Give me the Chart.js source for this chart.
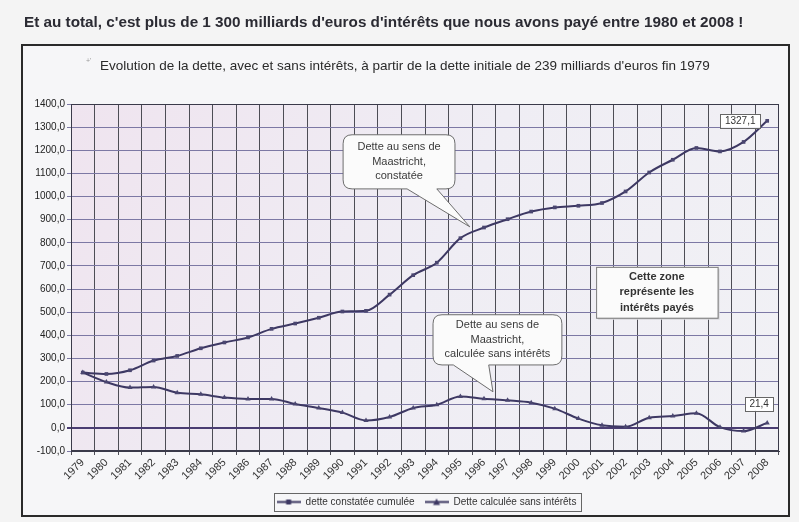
<!DOCTYPE html>
<html><head><meta charset="utf-8">
<script src="https://cdn.jsdelivr.net/npm/chart.js@4.4.1/dist/chart.umd.min.js"></script>
<style>html,body{margin:0;padding:0;background:#f4f4f4;}#wrap{width:799px;height:522px;}</style>
</head><body><div id="wrap"><canvas id="c" width="799" height="522"></canvas></div>
<script>
const years = ['1979','1980','1981','1982','1983','1984','1985','1986','1987','1988','1989','1990','1991','1992','1993','1994','1995','1996','1997','1998','1999','2000','2001','2002','2003','2004','2005','2006','2007','2008'];
const detteConstatee = [239, 233, 249, 291, 311, 344, 369, 391, 428, 451, 476, 503, 506, 576, 660, 714, 820, 866, 902, 935, 953, 960, 972, 1022, 1104, 1159, 1210, 1195, 1236, 1327.1];
const detteSansInterets = [239, 198, 174, 177, 152, 145, 131, 125, 125, 103, 86, 66, 32, 47, 86, 100, 136, 126, 119, 109, 83, 40, 11, 5, 44, 51, 63, 3, -14, 21.4];
const seriesNames = ['dette constatée cumulée', 'Dette calculée sans intérêts'];
const yMin = -100, yMax = 1400, yStep = 100;
const mainTitle = "Et au total, c'est plus de 1 300 milliards d'euros d'intérêts que nous avons payé entre 1980 et 2008 !";
const subTitle = "Evolution de la dette, avec et sans intérêts, à partir de la dette initiale de 239 milliards d'euros fin 1979";
const callout1 = ['Dette au sens de', 'Maastricht,', 'constatée'];
const callout2 = ['Dette au sens de', 'Maastricht,', 'calculée sans intérêts'];
const zoneText = ['Cette zone', 'représente les', 'intérêts payés'];

const LINE = '#3d3863';
const FONT = 'Arial, "Liberation Sans", sans-serif';
const fmt = v => v.toFixed(1).replace('.', ',');

function legendIcon(style) {
  const c = document.createElement('canvas');
  c.width = 24; c.height = 9;
  const g = c.getContext('2d');
  g.strokeStyle = LINE; g.lineWidth = 2;
  g.beginPath(); g.moveTo(0, 4.5); g.lineTo(24, 4.5); g.stroke();
  g.fillStyle = LINE;
  if (style === 'rect') { g.fillRect(9.5, 2, 5, 5); }
  else { g.beginPath(); g.moveTo(12, 1); g.lineTo(15.5, 7.5); g.lineTo(8.5, 7.5); g.closePath(); g.fill(); }
  return c;
}

function roundCallout(ctx, x1, y1, x2, y2, r, b1, b2, tx, ty) {
  ctx.beginPath();
  ctx.moveTo(x1 + r, y1);
  ctx.lineTo(x2 - r, y1);
  ctx.quadraticCurveTo(x2, y1, x2, y1 + r);
  ctx.lineTo(x2, y2 - r);
  ctx.quadraticCurveTo(x2, y2, x2 - r, y2);
  ctx.lineTo(b2, y2);
  ctx.lineTo(tx, ty);
  ctx.lineTo(b1, y2);
  ctx.lineTo(x1 + r, y2);
  ctx.quadraticCurveTo(x1, y2, x1, y2 - r);
  ctx.lineTo(x1, y1 + r);
  ctx.quadraticCurveTo(x1, y1, x1 + r, y1);
  ctx.closePath();
}

function fitText(ctx, txt, weight, targetW) {
  ctx.font = weight + '10px ' + FONT;
  const w10 = ctx.measureText(txt).width;
  const size = 10 * targetW / w10;
  ctx.font = weight + size.toFixed(2) + 'px ' + FONT;
}

const deco = {
  id: 'deco',
  afterLayout(chart) {
    const lg = chart.legend;
    if (lg) { lg.left += 26; lg.right += 26; }
  },
  beforeDraw(chart) {
    const ctx = chart.ctx, a = chart.chartArea;
    ctx.save();
    ctx.fillStyle = '#f4f4f4'; ctx.fillRect(0, 0, 799, 522);
    ctx.fillStyle = '#f6f6f8'; ctx.fillRect(22, 45, 767, 471);
    const gr = ctx.createLinearGradient(a.left, a.top, a.right, a.bottom);
    gr.addColorStop(0, '#efe4ef'); gr.addColorStop(0.5, '#efedf4'); gr.addColorStop(1, '#f1f1f5');
    ctx.fillStyle = gr; ctx.fillRect(a.left, a.top, a.right - a.left, a.bottom - a.top);
    ctx.restore();
  },
  afterDatasetsDraw(chart) {
    const ctx = chart.ctx, x = chart.scales.x, y = chart.scales.y, a = chart.chartArea;
    const X = i => x.getPixelForValue(i), Y = v => y.getPixelForValue(v);
    ctx.save();
    ctx.strokeStyle = '#3a3a4a'; ctx.lineWidth = 1;
    ctx.strokeRect(a.left + 0.5, a.top + 0.5, a.right - a.left - 1, a.bottom - a.top - 1);
    ctx.font = '11px ' + FONT; ctx.textAlign = 'center'; ctx.textBaseline = 'middle';
    const drawCallout = (bx1, by1, bx2, by2, b1, b2, tx, ty, lines) => {
      const x1 = X(bx1), x2 = X(bx2), y1 = Y(by1), y2 = Y(by2);
      ctx.fillStyle = '#fbfbfb'; ctx.strokeStyle = '#6d6d6d'; ctx.lineWidth = 1;
      roundCallout(ctx, x1, y1, x2, y2, 9, X(b1), X(b2), X(tx), Y(ty));
      ctx.fill(); ctx.stroke();
      ctx.fillStyle = '#3a3a3a';
      const cx = (x1 + x2) / 2, h = 14.5, cy = (y1 + y2) / 2;
      lines.forEach((t, k) => ctx.fillText(t, cx, cy + (k - (lines.length - 1) / 2) * h));
    };
    drawCallout(11.03, 1267, 15.77, 1033, 13.74, 15.0, 16.4, 869, callout1);
    drawCallout(14.84, 489, 20.3, 272, 15.7, 17.2, 17.38, 156, callout2);
    const zx1 = X(21.75), zx2 = X(26.9), zy1 = Y(696), zy2 = Y(476);
    ctx.fillStyle = '#d8d8dc'; ctx.fillRect(zx1 + 2, zy1 + 2, zx2 - zx1, zy2 - zy1);
    ctx.fillStyle = '#fbfbfb'; ctx.fillRect(zx1, zy1, zx2 - zx1, zy2 - zy1);
    ctx.strokeStyle = '#7a7a7a'; ctx.strokeRect(zx1 + 0.5, zy1 + 0.5, zx2 - zx1, zy2 - zy1);
    ctx.font = 'bold 11px ' + FONT; ctx.fillStyle = '#333';
    const zc = (zx1 + zx2) / 2, zm = (zy1 + zy2) / 2;
    zoneText.forEach((t, k) => ctx.fillText(t, zc, zm + (k - 1) * 15.5));
    ctx.font = '10px ' + FONT;
    const lastI = years.length - 1;
    const lab = (txt, cx, cy) => {
      const w = ctx.measureText(txt).width + 9, h = 14;
      ctx.fillStyle = '#ffffff'; ctx.fillRect(cx - w / 2, cy - h / 2, w, h);
      ctx.strokeStyle = '#666'; ctx.strokeRect(Math.round(cx - w / 2) + 0.5, Math.round(cy - h / 2) + 0.5, Math.round(w), h);
      ctx.fillStyle = '#333'; ctx.fillText(txt, cx, cy + 0.5);
    };
    const p1 = chart.getDatasetMeta(0).data[lastI], p2 = chart.getDatasetMeta(1).data[lastI];
    lab(fmt(detteConstatee[lastI]), p1.x - 27, p1.y);
    lab(fmt(detteSansInterets[lastI]), p2.x - 8, p2.y - 19);
    ctx.restore();
  },
  afterDraw(chart) {
    const ctx = chart.ctx;
    ctx.save();
    ctx.fillStyle = '#2b2b33'; ctx.textBaseline = 'middle'; ctx.textAlign = 'left';
    fitText(ctx, mainTitle, 'bold ', 720);
    ctx.fillText(mainTitle, 24, 23);
    ctx.fillStyle = '#2a2a2a';
    fitText(ctx, subTitle, '', 610);
    ctx.fillText(subTitle, 100, 66);
    ctx.fillStyle = '#999'; ctx.font = '7px ' + FONT; ctx.fillText("+'", 86, 61);
    ctx.strokeStyle = '#2a2a2a'; ctx.lineWidth = 2;
    ctx.strokeRect(22, 45, 767, 471);
    const lg = chart.legend, hb = lg.legendHitBoxes;
    if (hb && hb.length) {
      const l = hb[0].left - 3, r = hb[hb.length - 1].left + hb[hb.length - 1].width + 4;
      const t = hb[0].top - 4, h = hb[0].height + 8;
      ctx.lineWidth = 1; ctx.strokeStyle = '#666';
      ctx.strokeRect(Math.round(l) + 0.5, Math.round(t) + 0.5, Math.round(r - l), Math.round(h));
    }
    ctx.restore();
  }
};

new Chart(document.getElementById('c'), {
  type: 'line',
  data: {
    labels: years,
    datasets: [
      { label: seriesNames[0], data: detteConstatee, borderColor: LINE, backgroundColor: LINE, borderWidth: 2,
        pointStyle: 'rect', pointRadius: 2.6, pointBackgroundColor: '#4a4670', pointBorderColor: '#4a4670', pointBorderWidth: 0,
        tension: 0.35, cubicInterpolationMode: 'monotone' },
      { label: seriesNames[1], data: detteSansInterets, borderColor: LINE, backgroundColor: LINE, borderWidth: 2,
        pointStyle: 'triangle', pointRadius: 3, pointBackgroundColor: '#4a4670', pointBorderColor: '#4a4670', pointBorderWidth: 0,
        tension: 0.35, cubicInterpolationMode: 'monotone' }
    ]
  },
  options: {
    responsive: false, animation: false, devicePixelRatio: 1,
    layout: { padding: { left: 22, right: 20, top: 104, bottom: 5 } },
    plugins: {
      tooltip: { enabled: false },
      title: { display: false },
      legend: {
        display: true, position: 'bottom',
        labels: {
          usePointStyle: true, pointStyleWidth: 24, boxHeight: 9, padding: 10,
          color: '#333', font: { family: FONT, size: 10 },
          generateLabels: (chart) => chart.data.datasets.map((d, i) => ({
            text: d.label, datasetIndex: i, fontColor: '#333',
            pointStyle: legendIcon(i === 0 ? 'rect' : 'triangle'), lineWidth: 0, hidden: false
          }))
        }
      }
    },
    scales: {
      x: {
        type: 'category', offset: true,
        grid: { offset: true, color: '#4d4d55', lineWidth: 1, drawTicks: true, tickLength: 4 },
        border: { color: '#3a3a4a' },
        ticks: { autoSkip: false, minRotation: 45, maxRotation: 45, color: '#333', font: { family: FONT, size: 11 }, padding: 1 },
        afterFit: s => { s.height = 36; }
      },
      y: {
        min: yMin, max: yMax,
        ticks: { stepSize: yStep, color: '#222', font: { family: FONT, size: 10 }, padding: 2, callback: v => fmt(v) },
        grid: {
          color: c => c.tick && c.tick.value === 0 ? '#4a3d72' : '#7c78a4',
          lineWidth: c => c.tick && c.tick.value === 0 ? 2 : 1,
          drawTicks: true, tickLength: 4
        },
        border: { color: '#3a3a4a' },
        afterFit: s => { s.width = 49; }
      }
    }
  },
  plugins: [deco]
});
</script></body></html>
